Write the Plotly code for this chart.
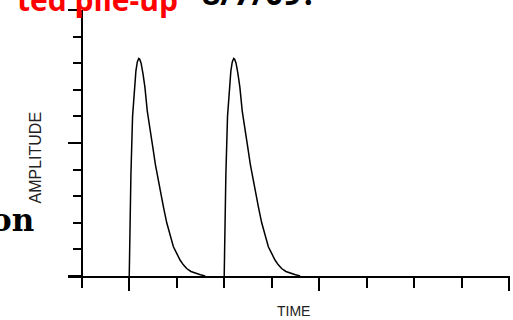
import plotly.graph_objects as go

# pulse shape (time offset from pulse start, amplitude)
pulse_t = [0.0, 0.01, 0.035, 0.07, 0.10, 0.14, 0.17, 0.20, 0.22, 0.25, 0.29, 0.33,
           0.38, 0.44, 0.50, 0.55, 0.60, 0.66, 0.72, 0.79, 0.86, 0.93, 1.00, 1.07,
           1.14, 1.21, 1.30, 1.40, 1.50, 1.60]
pulse_amp = [0.0, 1.5, 3.8, 6.0, 6.9, 7.7, 8.05, 8.18, 8.15, 8.0, 7.6, 7.1,
             6.2, 5.4, 4.8, 4.2, 3.7, 3.2, 2.6, 2.0, 1.5, 1.1, 0.85, 0.6,
             0.42, 0.28, 0.17, 0.10, 0.05, 0.0]
pulse_starts = [1, 3]

x_major = [1, 5, 9]
x_minor = list(range(0, 10))
y_major = [0, 5, 10]
y_minor = list(range(0, 11))

W, H = 513, 320
L, R, T, B = 68, 3, 10, 44
x_range = [-0.29, 9.02]
y_range = [0, 10]

fig = go.Figure()
for s in pulse_starts:
    fig.add_trace(go.Scatter(
        x=[s + t for t in pulse_t], y=pulse_amp, mode="lines",
        line=dict(color="black", width=1.5), showlegend=False, hoverinfo="skip"))

pw = W - L - R
ph = H - T - B

def px_x(px):
    return (px - L) / pw

def px_y(py):
    return (H - B - py) / ph

y_pos = (0 - x_range[0]) / (x_range[1] - x_range[0])

fig.update_layout(
    width=W, height=H,
    margin=dict(l=L, r=R, t=T, b=B, pad=0),
    plot_bgcolor="white", paper_bgcolor="white",
    xaxis=dict(range=x_range, showgrid=False, zeroline=False, showline=True,
               linecolor="black", linewidth=2, ticks="outside", tickvals=x_major,
               ticklen=13, tickwidth=2, tickcolor="black", showticklabels=False,
               minor=dict(tickvals=x_minor, ticks="outside", ticklen=10,
                          tickwidth=2, tickcolor="black", showgrid=False)),
    yaxis=dict(range=y_range, showgrid=False, zeroline=False, showline=True,
               linecolor="black", linewidth=2, ticks="outside", tickvals=y_major,
               ticklen=13, tickwidth=2, tickcolor="black", showticklabels=False,
               anchor="free", position=y_pos,
               minor=dict(tickvals=y_minor, ticks="outside", ticklen=8,
                          tickwidth=2, tickcolor="black", showgrid=False)),
    font=dict(family="Liberation Sans, Arial, sans-serif", color="black"),
)

ann = [
    dict(text="AMPLITUDE", x=px_x(35), y=px_y(157.5), textangle=-90,
         font=dict(size=16, family="Liberation Sans, Arial", color="#222")),
    dict(text="TIME", x=px_x(293), y=px_y(311),
         font=dict(size=14, family="Liberation Sans, Arial", color="#222")),
    dict(text="<b>on</b>", x=px_x(36), y=px_y(220), xanchor="right",
         font=dict(size=31, family="DejaVu Serif, serif", color="black")),
    dict(text="<b>ted pile-up</b>", x=px_x(180), y=px_y(22), xanchor="right", yanchor="bottom",
         font=dict(size=30, family="Open Sans, sans-serif", color="red")),
    dict(text="<b>8/7/09?</b>", x=px_x(200), y=px_y(16), xanchor="left", yanchor="bottom",
         font=dict(size=32, family="Open Sans, sans-serif", color="black")),
]
for a in ann:
    a.setdefault("xanchor", "center")
    a.setdefault("yanchor", "middle")
    a.update(xref="paper", yref="paper", showarrow=False)
fig.update_layout(annotations=ann)

fig.write_html("out.html")
